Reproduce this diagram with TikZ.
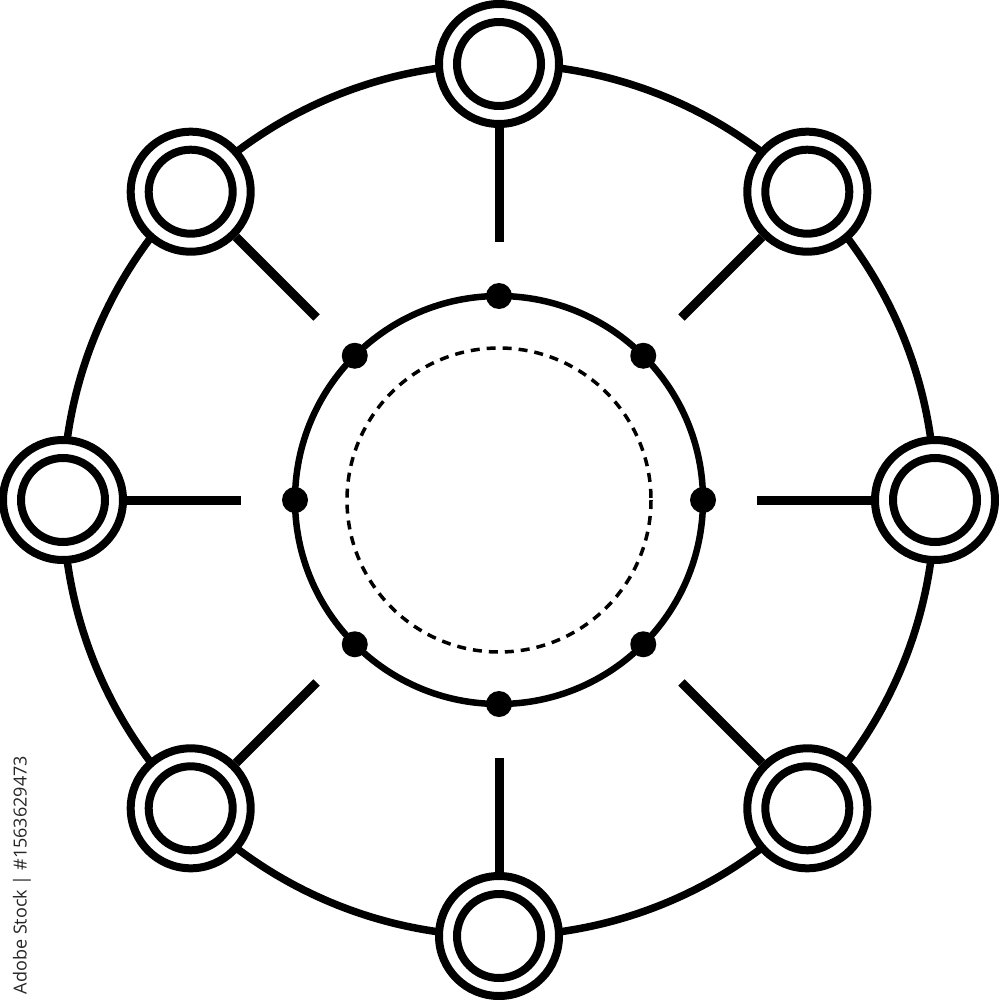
\documentclass[tikz,border=0pt]{standalone}
\usepackage{fontspec}
\usetikzlibrary{calc}
\newfontfamily\wmfont{Open Sans}
\begin{document}
\begin{tikzpicture}[x=1pt,y=-1pt,
  ringline/.style={line width=7.5pt, black},
  hubnode/.style={circle, draw=black, line width=8pt, fill=white, minimum size=120pt, inner sep=0pt},
  innerring/.style={line width=8pt, black},
  spoke/.style={line width=9pt, black},
  hubcircle/.style={line width=6.5pt, black},
  dashcircle/.style={line width=3.5pt, black, dash pattern=on 9pt off 7pt},
  dotnode/.style={circle, fill=black, minimum size=26pt, inner sep=0pt}
]
\useasboundingbox (0,0) rectangle (998,1000);
\coordinate (c) at (499,500);
% outer ring
\draw[ringline] (c) circle (436);
% inner hub circle and dashed circle
\draw[hubcircle] (c) circle (204);
\draw[dashcircle] (c) circle (152);
% nodes, spokes
\foreach \i/\a in {1/90,2/45,3/0,4/-45,5/-90,6/-135,7/180,8/135}{
  \node[hubnode] (n\i) at ($(c)+(\a:436 and -436)$) {};
  \draw[innerring] (n\i.center) circle (42);
  \coordinate (s\i) at ($(c)+(\a:258 and -258)$);
  \draw[spoke] (n\i) -- (s\i);
  \node[dotnode] (d\i) at ($(c)+(\a:204 and -204)$) {};
}
\node[rotate=90, text=black!85, font=\wmfont\fontsize{18}{21}\selectfont, inner sep=0pt] (wm) at (22,875) {Adobe Stock | \#1563629473};
\end{tikzpicture}
\end{document}
